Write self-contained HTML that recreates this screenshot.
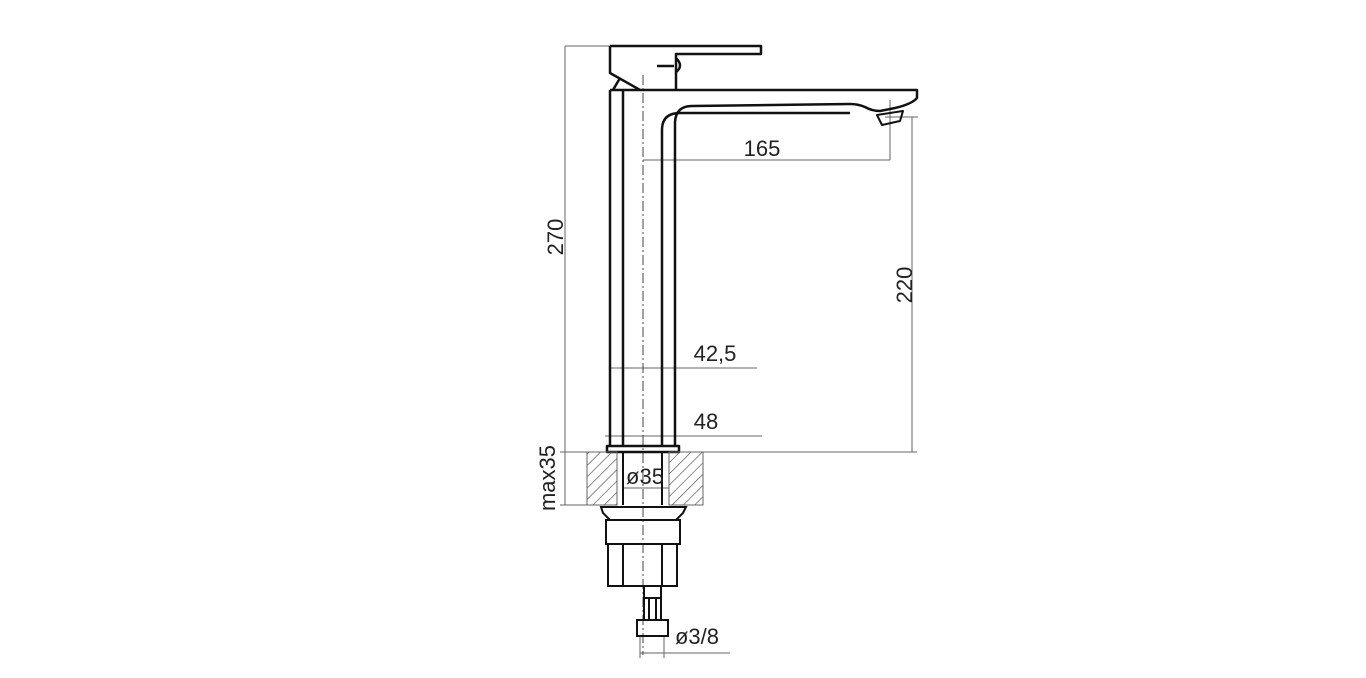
<!DOCTYPE html>
<html><head><meta charset="utf-8"><style>
html,body{margin:0;padding:0;background:#fff;width:1366px;height:678px;overflow:hidden}
text{font-family:"Liberation Sans",sans-serif;font-size:22px;fill:#222}
</style></head><body>
<svg width="1366" height="678" viewBox="0 0 1366 678" xmlns="http://www.w3.org/2000/svg">
<defs>
<pattern id="h" patternUnits="userSpaceOnUse" width="8" height="8" patternTransform="rotate(45)">
<line x1="0" y1="0" x2="0" y2="8" stroke="#444" stroke-width="1.2"/></pattern>
</defs>
<g fill="none" stroke="#666" stroke-width="1">
<line x1="565" y1="46" x2="610" y2="46"/>
<line x1="565" y1="46" x2="565" y2="505"/>
<line x1="560" y1="452" x2="917" y2="452"/>
<line x1="560" y1="505" x2="600" y2="505"/>
<line x1="912" y1="117" x2="912" y2="452"/>
<line x1="885" y1="117" x2="918" y2="117"/>
<line x1="643" y1="160" x2="890" y2="160"/>
<line x1="890" y1="100" x2="890" y2="160"/>
<line x1="610" y1="368" x2="757" y2="368"/>
<line x1="605" y1="436" x2="762" y2="436"/>
<line x1="623" y1="488" x2="669" y2="488"/>
<line x1="640" y1="653" x2="730" y2="653"/>
<line x1="640" y1="636" x2="640" y2="658"/>
<line x1="664" y1="636" x2="664" y2="658"/>
</g>
<line x1="643" y1="75" x2="643" y2="655" stroke="#444" stroke-width="1" stroke-dasharray="10,3,2,3"/>
<g fill="none" stroke="#111" stroke-width="2.5" stroke-linejoin="round">
<path d="M610 46 H761 V54 H676 V90 M610 46 V73 L640 90"/>
<path d="M657 66 H674"/>
<path d="M676 58 Q684 66 676 72" />
<path d="M620 78 L613 90"/>
<path d="M610 90 H917 V98 Q912 104 895 108 L880 111 Q872 111 865 107 Q858 104 850 104 L692 106 Q676 106 675 122 V446"/>
<path d="M662 446 V130 Q662 113 680 113 L850 113"/>
<path d="M877 115 L903 111 L900 121 L882 125 Z" stroke-width="2"/>
<path d="M610 90 V446 M623 90 V446"/>
<rect x="607" y="446" width="72" height="6"/>
</g>
<rect x="587" y="452" width="30" height="53" fill="url(#h)" stroke="#666"/>
<rect x="669" y="452" width="34" height="53" fill="url(#h)" stroke="#666"/>
<g fill="none" stroke="#111" stroke-width="2">
<path d="M623 452 V505 M662 452 V505"/>
<path d="M601 507 H686 L683 513 L676 520 H610 L603 513 Z"/>
<rect x="606" y="520" width="74" height="24"/>
<rect x="608" y="544" width="69" height="42"/>
<path d="M623 544 V586 M662 544 V586"/>
<rect x="644" y="586" width="17" height="12"/>
<path d="M644 598 V620 M661 598 V620 M649 598 V620 M656 598 V620"/>
<rect x="637" y="620" width="31" height="16"/>
</g>
<text x="556" y="237" transform="rotate(-90 556 237)" text-anchor="middle" dy="7">270</text>
<text x="548" y="478" transform="rotate(-90 548 478)" text-anchor="middle" dy="7">max35</text>
<text x="905" y="285" transform="rotate(-90 905 285)" text-anchor="middle" dy="7">220</text>
<text x="762" y="156" text-anchor="middle">165</text>
<text x="715" y="361" text-anchor="middle">42,5</text>
<text x="706" y="429" text-anchor="middle">48</text>
<text x="645" y="484" text-anchor="middle">ø35</text>
<text x="697" y="644" text-anchor="middle">ø3/8</text>
</svg>
</body></html>
